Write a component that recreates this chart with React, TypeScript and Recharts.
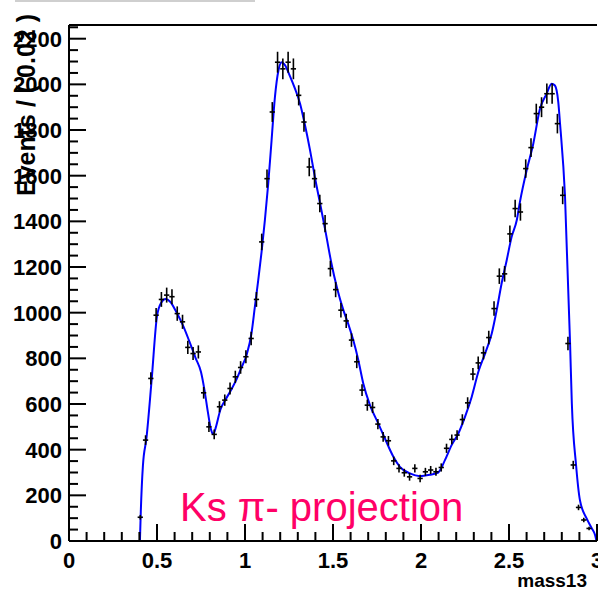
import React from 'react';
import {
  ComposedChart,
  Scatter,
  Line,
  XAxis,
  YAxis,
  ErrorBar,
  ReferenceLine,
} from 'recharts';

// bin centres (Ks pi- invariant mass) and counts
const massBins = [
  0.405, 0.435, 0.465, 0.495, 0.525, 0.555, 0.585, 0.615, 0.645, 0.675,
  0.705, 0.735, 0.765, 0.795, 0.825, 0.855, 0.885, 0.915, 0.945, 0.975,
  1.005, 1.035, 1.065, 1.095, 1.125, 1.155, 1.185, 1.215, 1.245, 1.275,
  1.305, 1.335, 1.365, 1.395, 1.425, 1.455, 1.485, 1.515, 1.545, 1.575,
  1.605, 1.635, 1.665, 1.695, 1.725, 1.755, 1.785, 1.815, 1.845, 1.875,
  1.905, 1.935, 1.965, 1.995, 2.025, 2.055, 2.085, 2.115, 2.145, 2.175,
  2.205, 2.235, 2.265, 2.295, 2.325, 2.355, 2.385, 2.415, 2.445, 2.475,
  2.505, 2.535, 2.565, 2.595, 2.625, 2.655, 2.685, 2.715, 2.745, 2.775,
  2.805, 2.835, 2.865, 2.895, 2.925, 2.955,
];

const eventCounts = [
  104, 442, 712, 989, 1058, 1077, 1070, 996, 960, 848,
  821, 828, 649, 500, 467, 588, 617, 668, 719, 760,
  807, 887, 1058, 1310, 1587, 1879, 2097, 2068, 2097, 2068,
  1952, 1835, 1638, 1587, 1478, 1390, 1193, 1101, 1011, 964,
  880, 785, 661, 595, 585, 512, 456, 439, 351, 318,
  299, 281, 318, 274, 303, 311, 303, 322, 406, 445,
  464, 532, 605, 731, 780, 824, 891, 1018, 1160, 1170,
  1345, 1456, 1441, 1631, 1723, 1872, 1900, 1959, 1959, 1828,
  1514, 865, 333, 147, 92, 55,
];

// fitted curve, sampled by eye
const fitMass = [
  0.403, 0.408, 0.42, 0.44, 0.47, 0.5, 0.525, 0.548, 0.575, 0.61,
  0.65, 0.685, 0.72, 0.75, 0.77, 0.79, 0.808, 0.82, 0.835, 0.86,
  0.89, 0.92, 0.955, 0.98, 1.009, 1.037, 1.056, 1.075, 1.094, 1.113,
  1.132, 1.151, 1.17, 1.19, 1.209, 1.228, 1.256, 1.284, 1.313, 1.337,
  1.37, 1.398, 1.43, 1.46, 1.49, 1.524, 1.559, 1.587, 1.615, 1.644,
  1.672, 1.71, 1.757, 1.795, 1.843, 1.88, 1.937, 1.994, 2.05, 2.098,
  2.136, 2.174, 2.212, 2.25, 2.288, 2.326, 2.364, 2.402, 2.43, 2.458,
  2.487, 2.515, 2.544, 2.562, 2.6, 2.638, 2.676, 2.714, 2.742, 2.761,
  2.78, 2.79, 2.818, 2.847, 2.857, 2.881, 2.903, 2.941, 2.97, 2.989,
  2.997,
];

const fitValues = [
  0, 130, 330, 450, 710, 985, 1045, 1060, 1048, 1003,
  940, 872, 800, 740, 660, 560, 485, 468, 500, 575,
  620, 660, 713, 760, 815, 910, 1025, 1142, 1265, 1405,
  1565, 1755, 1944, 2061, 2097, 2083, 2035, 1981, 1915, 1835,
  1710, 1590, 1465, 1345, 1220, 1105, 1011, 950, 880, 792,
  690, 595, 515, 449, 369, 325, 296, 284, 290, 300,
  354, 420, 471, 544, 631, 741, 821, 909, 1011, 1128,
  1230, 1332, 1405, 1485, 1623, 1740, 1893, 1959, 2003, 1995,
  1922, 1828, 1514, 865, 603, 333, 179, 99, 56, 26,
  0,
];

const xTicks = [
  0, 0.1, 0.2, 0.3, 0.4, 0.5, 0.6, 0.7, 0.8, 0.9, 1, 1.1, 1.2, 1.3, 1.4, 1.5,
  1.6, 1.7, 1.8, 1.9, 2, 2.1, 2.2, 2.3, 2.4, 2.5, 2.6, 2.7, 2.8, 2.9, 3,
];

const yTicks = [
  0, 50, 100, 150, 200, 250, 300, 350, 400, 450, 500, 550, 600, 650, 700, 750,
  800, 850, 900, 950, 1000, 1050, 1100, 1150, 1200, 1250, 1300, 1350, 1400,
  1450, 1500, 1550, 1600, 1650, 1700, 1750, 1800, 1850, 1900, 1950, 2000, 2050,
  2100, 2150, 2200, 2250,
];

const points = massBins.map((m, i) => ({
  mass: m,
  events: eventCounts[i],
  ex: 0.015,
  ey: Math.sqrt(eventCounts[i]),
}));

const fit = fitMass.map((m, i) => ({ mass: m, fit: fitValues[i] }));

const FONT = '"Liberation Sans", Arial, Helvetica, sans-serif';

const XTick = (props: any) => {
  const { x, y, payload } = props;
  const v = payload.value as number;
  const major = Math.abs(v * 2 - Math.round(v * 2)) < 1e-6;
  return (
    <g>
      <line x1={x} y1={y} x2={x} y2={y - (major ? 17 : 9)} stroke="#000" strokeWidth={2} />
      {major && (
        <text x={x} y={y + 27} textAnchor="middle" fontFamily={FONT} fontWeight="bold" fontSize={22} fill="#000">
          {String(v)}
        </text>
      )}
    </g>
  );
};

const YTick = (props: any) => {
  const { x, y, payload } = props;
  const v = payload.value as number;
  const major = v % 200 === 0;
  return (
    <g>
      <line x1={x} y1={y} x2={x + (major ? 17 : 9)} y2={y} stroke="#000" strokeWidth={2} />
      {major && (
        <text x={x - 7} y={y + 8} textAnchor="end" fontFamily={FONT} fontWeight="bold" fontSize={22} fill="#000">
          {String(v)}
        </text>
      )}
    </g>
  );
};

export default function App() {
  return (
    <div style={{ position: 'absolute', left: 0, top: 0, width: 598, height: 589, background: '#fff' }}>
      <ComposedChart width={598} height={589} margin={{ top: 25, right: 1, bottom: 18, left: 9 }}>
        <XAxis
          dataKey="mass"
          type="number"
          domain={[0, 3]}
          ticks={xTicks}
          interval={0}
          allowDataOverflow
          height={30}
          tickLine={false}
          tickSize={0}
          tickMargin={0}
          axisLine={{ stroke: '#000', strokeWidth: 2 }}
          tick={<XTick />}
        />
        <YAxis
          type="number"
          domain={[0, 2260]}
          ticks={yTicks}
          interval={0}
          allowDataOverflow
          width={60}
          tickLine={false}
          tickSize={0}
          tickMargin={0}
          axisLine={{ stroke: '#000', strokeWidth: 2 }}
          tick={<YTick />}
        />
        <ReferenceLine y={2260} stroke="#000" strokeWidth={2} />
        <Line
          data={fit}
          dataKey="fit"
          type="monotone"
          stroke="#0000ff"
          strokeWidth={2}
          dot={false}
          isAnimationActive={false}
        />
        <Scatter data={points} dataKey="events" shape={() => <g />} isAnimationActive={false}>
          <ErrorBar dataKey="ey" direction="y" width={0} stroke="#000" strokeWidth={1.6} />
          <ErrorBar dataKey="ex" direction="x" width={0} stroke="#000" strokeWidth={1.6} />
        </Scatter>
      </ComposedChart>
      <svg width={598} height={589} style={{ position: 'absolute', left: 0, top: 0, pointerEvents: 'none' }}>
        <line x1={15} y1={1} x2={255} y2={1} stroke="#cfcfcf" strokeWidth={2} />
        <text
          x={35}
          y={105}
          transform="rotate(-90 35 105)"
          textAnchor="middle"
          fontFamily={FONT}
          fontWeight="bold"
          fontSize={25}
          fill="#000"
        >
          Events / ( 0.02 )
        </text>
        <text x={587} y={587} textAnchor="end" fontFamily={FONT} fontWeight="bold" fontSize={19} fill="#000">
          mass13
        </text>
        <text x={180} y={521} fontFamily={FONT} fontSize={40} fill="#ff0066">
          Ks π- projection
        </text>
      </svg>
    </div>
  );
}
